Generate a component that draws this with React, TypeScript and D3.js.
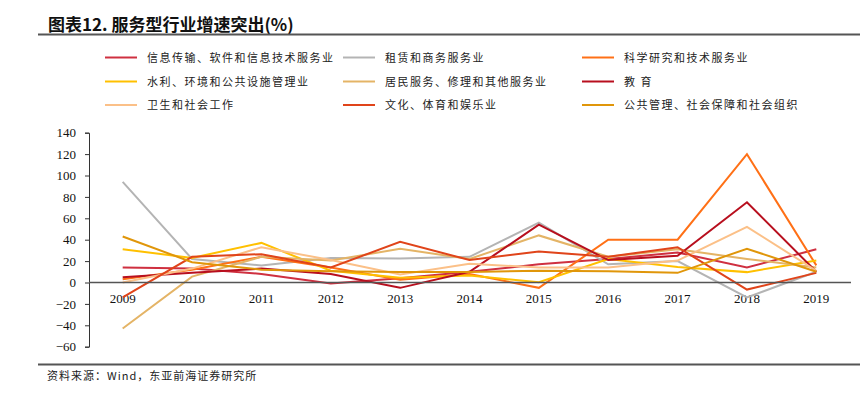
import React, { useEffect, useRef } from "react";
import * as d3 from "d3";

const years = ["2009", "2010", "2011", "2012", "2013", "2014", "2015", "2016", "2017", "2018", "2019"];
const yTicks = [-60, -40, -20, 0, 20, 40, 60, 80, 100, 120, 140];

const seriesNames = [
  "信息传输、软件和信息技术服务业",
  "租赁和商务服务业",
  "科学研究和技术服务业",
  "水利、环境和公共设施管理业",
  "居民服务、修理和其他服务业",
  "教 育",
  "卫生和社会工作",
  "文化、体育和娱乐业",
  "公共管理、社会保障和社会组织",
];

const infoTech = [14, 13, 8, -1, 4, 10, 17, 22, 28, 14, 31];
const leasing = [94, 22, 16, 23, 22.5, 24, 56, 17, 20, -14, 10];
const science = [3, 12, 24, 14, 2.5, 8, -5, 40, 40, 120, 16];
const water = [31, 23, 37, 11, 4.5, 6.5, 0.3, 22, 14.5, 9.7, 20.6];
const resident = [-43, 5.5, 24, 20.5, 31.5, 22, 44, 24, 31, 22, 14];
const education = [5, 9, 13, 8, -5, 10, 54, 21, 25, 75, 10];
const health = [0, 13, 33, 21, 7.5, 17.5, 14, 14, 20.5, 52, 11];
const culture = [-14, 24, 26.5, 14, 38, 21, 29, 24, 33, -6.6, 9];
const publicAdmin = [43, 19, 12, 10.6, 9.7, 9.7, 11, 10.6, 9, 31.6, 10];

const seriesValues = [infoTech, leasing, science, water, resident, education, health, culture, publicAdmin];
const colors = ["#cf3040", "#b4b4b4", "#ff7016", "#ffc000", "#e4b466", "#b80f1e", "#fbc088", "#e0441a", "#e0960a"];

function App() {
  const ref = useRef<SVGSVGElement | null>(null);

  useEffect(() => {
    const svg = d3.select(ref.current);
    svg.selectAll("*").remove();

    const x = d3.scalePoint<string>().domain(years).range([88, 851]).padding(0.5);
    const y = d3.scaleLinear().domain([-60, 140]).range([346.7, 132.7]);

    // title + rule
    svg
      .append("text")
      .attr("x", 48)
      .attr("y", 31)
      .attr("font-family", "Noto Sans CJK SC")
      .attr("font-weight", "bold")
      .attr("font-size", 17)
      .attr("fill", "#111")
      .text("图表12.  服务型行业增速突出(%)");
    svg
      .append("line")
      .attr("x1", 38)
      .attr("x2", 860)
      .attr("y1", 34.5)
      .attr("y2", 34.5)
      .attr("stroke", "#555")
      .attr("stroke-width", 2);

    // legend
    const legCols = [105, 343, 582];
    const legRows = [57.5, 81.5, 105];
    seriesNames.forEach((name, i) => {
      const lx = legCols[i % 3];
      const ly = legRows[Math.floor(i / 3)];
      svg
        .append("line")
        .attr("x1", lx)
        .attr("x2", lx + 32)
        .attr("y1", ly)
        .attr("y2", ly)
        .attr("stroke", colors[i])
        .attr("stroke-width", 2);
      svg
        .append("text")
        .attr("x", lx + 42)
        .attr("y", ly + 4)
        .attr("font-family", "Noto Sans CJK SC")
        .attr("font-size", 11)
        .attr("letter-spacing", 1.5)
        .attr("xml:space", "preserve")
        .attr("fill", "#222")
        .text(name);
    });

    // y axis
    const yAxis = svg
      .append("g")
      .attr("transform", "translate(89,0)")
      .call(d3.axisLeft(y).tickValues(yTicks).tickSize(4).tickPadding(9));
    yAxis.select(".domain").attr("stroke", "#333");
    yAxis.selectAll(".tick line").attr("stroke", "#333");
    yAxis
      .selectAll("text")
      .attr("font-family", "Liberation Serif")
      .attr("font-size", 13)
      .attr("fill", "#111");

    // x labels
    years.forEach((yr) => {
      svg
        .append("text")
        .attr("x", x(yr)!)
        .attr("y", 303)
        .attr("text-anchor", "middle")
        .attr("font-family", "Liberation Serif")
        .attr("font-size", 13)
        .attr("fill", "#111")
        .text(yr);
    });

    // series
    const line = d3
      .line<number>()
      .x((d, i) => x(years[i])!)
      .y((d) => y(d));
    seriesValues.forEach((vals, i) => {
      svg
        .append("path")
        .datum(vals)
        .attr("d", line)
        .attr("fill", "none")
        .attr("stroke", colors[i])
        .attr("stroke-width", 2)
        .attr("stroke-linejoin", "miter");
    });

    // zero line
    svg
      .append("line")
      .attr("x1", 89)
      .attr("x2", 851)
      .attr("y1", y(0))
      .attr("y2", y(0))
      .attr("stroke", "#555")
      .attr("stroke-width", 1.5);

    // source
    svg
      .append("line")
      .attr("x1", 38)
      .attr("x2", 860)
      .attr("y1", 364.5)
      .attr("y2", 364.5)
      .attr("stroke", "#555")
      .attr("stroke-width", 2);
    svg
      .append("text")
      .attr("x", 47)
      .attr("y", 380)
      .attr("font-family", "Noto Sans CJK SC")
      .attr("font-size", 11)
      .attr("letter-spacing", 1)
      .attr("fill", "#222")
      .text("资料来源：Wind，东亚前海证券研究所");
  }, []);

  return (
    <svg
      ref={ref}
      width={860}
      height={397}
      style={{ position: "absolute", left: 0, top: 0, background: "#fff" }}
    />
  );
}

export default App;
